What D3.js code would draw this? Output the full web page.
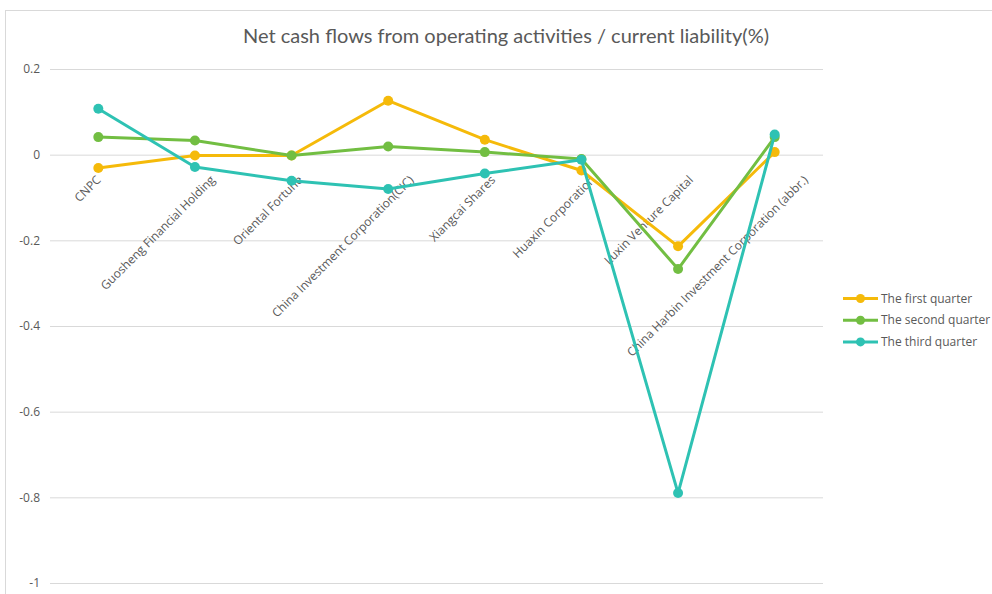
<!DOCTYPE html>
<html>
<head>
<meta charset="utf-8">
<script src="https://cdn.jsdelivr.net/npm/d3@7"></script>
<style>
  body { margin: 0; background: #fff; }
  svg { display: block; }
</style>
</head>
<body>
<svg id="chart"></svg>
<script>
// data
const companies = ["CNPC", "Guosheng Financial Holding", "Oriental Fortune", "China Investment Corporation(CIC)",
    "Xiangcai Shares", "Huaxin Corporation", "Luxin Venture Capital", "China Harbin Investment Corporation (abbr.)"];
const firstQuarter  = [-0.031, -0.002, -0.002, 0.126, 0.035, -0.037, -0.214, 0.006];
const secondQuarter = [0.041, 0.033, -0.002, 0.019, 0.006, -0.010, -0.267, 0.041];
const thirdQuarter  = [0.107, -0.029, -0.061, -0.080, -0.044, -0.012, -0.790, 0.047];
const yTicks = [0.2, 0, -0.2, -0.4, -0.6, -0.8, -1];
const seriesNames = ["The first quarter", "The second quarter", "The third quarter"];
const colors = ["#F5BA0A", "#72BE42", "#2EC2B3"];

const width = 992, height = 594;
const svg = d3.select("#chart").attr("width", width).attr("height", height);

// outer chart frame
svg.append("rect")
    .attr("x", 5.5).attr("y", 10.5)
    .attr("width", width + 10).attr("height", height + 10)
    .attr("fill", "none").attr("stroke", "#d9d9d9");

svg.append("text")
    .attr("x", 506).attr("y", 43)
    .attr("text-anchor", "middle")
    .attr("font-family", "Lato, sans-serif")
    .attr("font-size", 20)
    .attr("fill", "#595959")
    .text("Net cash flows from operating activities / current liability(%)");

const x = d3.scaleBand().domain(companies).range([50, 823]);
const y = d3.scaleLinear().domain([-1, 0.2]).range([583, 69]);

// gridlines + y labels
const yAxis = svg.append("g")
    .attr("transform", "translate(50,0)")
    .call(d3.axisLeft(y).tickValues(yTicks).tickSize(-773).tickPadding(10).tickFormat(d => String(d)));
yAxis.select(".domain").remove();
yAxis.selectAll("line").attr("stroke", "#d9d9d9");
yAxis.selectAll("text")
    .attr("font-family", "'Open Sans', sans-serif")
    .attr("font-size", 12)
    .attr("fill", "#595959");

// category labels sit on the zero line, rotated
const catLabels = svg.append("g").selectAll("text")
    .data(companies)
    .join("text")
    .attr("font-family", "'Open Sans', sans-serif")
    .attr("font-size", 12)
    .attr("fill", "#595959")
    .attr("text-anchor", "end")
    .text(d => d);
catLabels.each(function(d) {
    const len = this.getComputedTextLength();
    const cx = x(d) + x.bandwidth() / 2 + len * 0.14 - 1;
    d3.select(this).attr("transform", `translate(${cx},${y(0) + 26}) rotate(-45)`);
});

const seriesList = [firstQuarter, secondQuarter, thirdQuarter];
const line = d3.line()
    .x((d, i) => x(companies[i]) + x.bandwidth() / 2)
    .y(d => y(d));

seriesList.forEach((values, s) => {
    svg.append("path")
        .datum(values)
        .attr("fill", "none")
        .attr("stroke", colors[s])
        .attr("stroke-width", 3)
        .attr("stroke-linejoin", "round")
        .attr("d", line);
    svg.append("g").selectAll("circle")
        .data(values)
        .join("circle")
        .attr("cx", (d, i) => x(companies[i]) + x.bandwidth() / 2)
        .attr("cy", d => y(d))
        .attr("r", 5)
        .attr("fill", colors[s]);
});

// legend
const legend = svg.append("g").selectAll("g")
    .data(seriesNames)
    .join("g")
    .attr("transform", (d, i) => `translate(843,${298.5 + i * 21.7})`);
legend.append("line")
    .attr("x1", 0).attr("x2", 35)
    .attr("stroke", (d, i) => colors[i]).attr("stroke-width", 3);
legend.append("circle")
    .attr("cx", 17.5).attr("r", 4.5)
    .attr("fill", (d, i) => colors[i]);
legend.append("text")
    .attr("x", 38).attr("dy", "0.35em")
    .attr("font-family", "'Open Sans', sans-serif")
    .attr("font-size", 12)
    .attr("fill", "#595959")
    .text(d => d);
</script>
</body>
</html>
